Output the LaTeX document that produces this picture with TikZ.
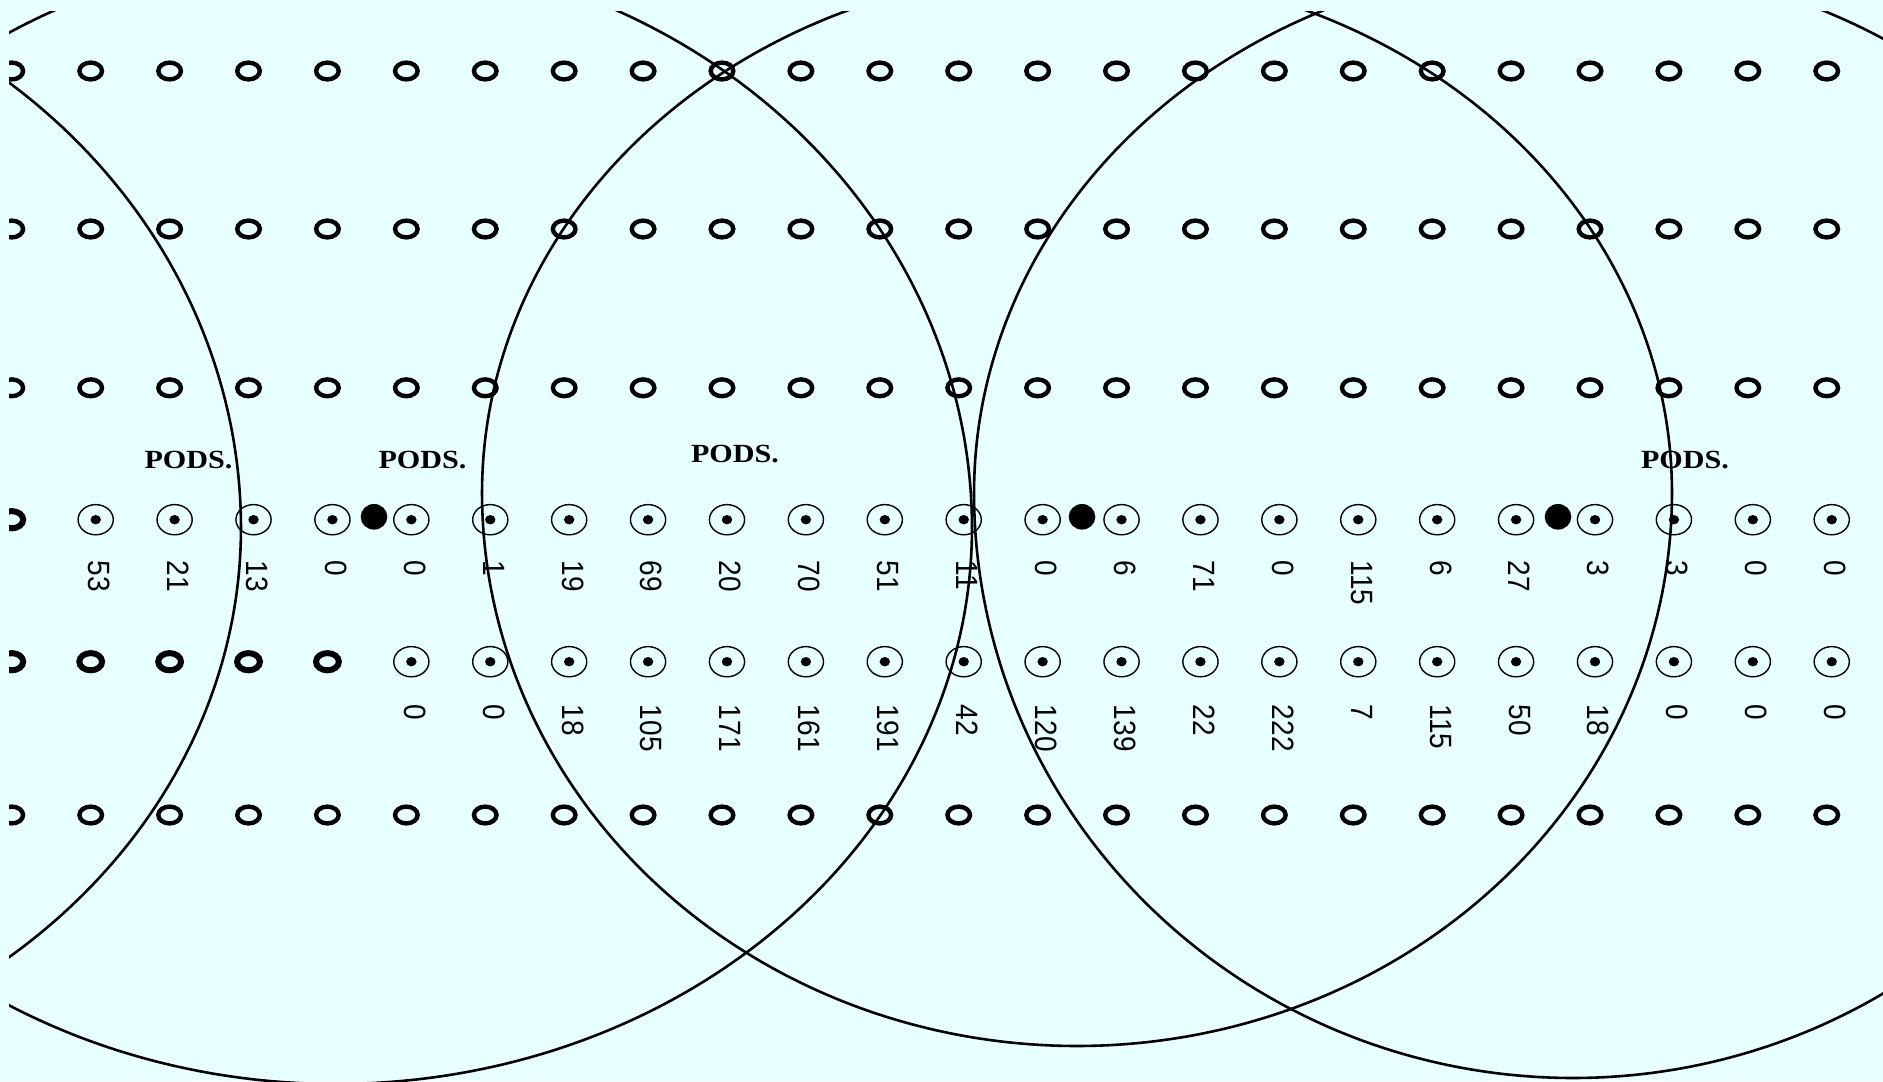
\documentclass[tikz,border=0pt]{standalone}
\usepackage{fontspec}
\setmainfont{Liberation Serif}
\newfontfamily\labfont{Liberation Sans}
\usepackage{graphicx}
\definecolor{bgc}{HTML}{E8FFFF}
\newcommand\qell[5]{%
  \draw[bigline] plot[domain=0:180,samples=140,smooth,variable=\t] ({#1+#3*cos(\t)},{#2-#4*sin(\t)})
    -- plot[domain=180:360,samples=140,smooth,variable=\t] ({#1+#3*cos(\t)},{#2-#5*sin(\t)}) -- cycle;}
\begin{document}
\begin{tikzpicture}[x=0.5pt,y=-0.5pt,
  bigline/.style={line width=1.3pt},
  ring/.style={line width=2.2pt},
  thickring/.style={line width=3pt},
  circ/.style={line width=0.7pt},
  lab/.style={font=\labfont\fontsize{14}{14}\selectfont, rotate=-90, anchor=west, inner sep=0pt},
  pods/.style={font=\bfseries\fontsize{13.1}{13.1}\selectfont, anchor=base, inner sep=0pt}]
\path[use as bounding box, fill=bgc] (0,0) rectangle (1883,1081);
\begin{scope}
\clip (9,12) rectangle (1883,1081);
% plain rings
\foreach \r in {71,229,387.8,815} {
  \foreach \k in {0,...,23} {
    \pgfmathsetmacro\xx{95.7+78.91*(\k-1)-5}
    \draw[ring] (\xx,\r) ellipse [x radius=11.3, y radius=8.4];
  }
}
% bold rings
\foreach \k in {0,...,4} {
  \pgfmathsetmacro\xx{95.7+78.91*(\k-1)-5}
  \draw[thickring] (\xx,661.7) ellipse [x radius=11.4, y radius=8.6];
}
\pgfmathsetmacro\xx{95.7+78.91*(-1)-5}
\draw[thickring] (\xx,519.7) ellipse [x radius=11.4, y radius=8.6];
% circled markers row 4
\foreach \k in {1,...,23} {
  \pgfmathsetmacro\xx{95.7+78.91*(\k-1)}
  \draw[circ] (\xx,519.7) ellipse [x radius=17.6, y radius=15.1];
  \fill (\xx,519.7) ellipse [x radius=5.2, y radius=4.7];
}
% circled markers row 5
\foreach \k in {5,...,23} {
  \pgfmathsetmacro\xx{95.7+78.91*(\k-1)}
  \draw[circ] (\xx,661.7) ellipse [x radius=17.6, y radius=15.1];
  \fill (\xx,661.7) ellipse [x radius=5.2, y radius=4.7];
}
% filled dots
\foreach \xx in {374,1082,1558} {
  \fill (\xx,516.8) ellipse [x radius=13.3, y radius=12.8];
}
% big circles
\qell{-395.5}{528}{636.5}{577}{556}
\qell{335.5}{528}{636.5}{577}{556}
\qell{1077}{493}{595}{523}{553}
\qell{1573}{493}{599}{531}{585}
\end{scope}
% labels row 4
\foreach \k/\v in {1/53,2/21,3/13,4/0,5/0,6/1,7/19,8/69,9/20,10/70,11/51,12/11,13/0,14/6,15/71,16/0,17/115,18/6,19/27,20/3,21/3,22/0,23/0} {
  \pgfmathsetmacro\xx{95.7+78.91*(\k-1)+3.5}
  \node[lab] (a\k) at (\xx,560.5) {\scalebox{1}[1.1]{\v}};
}
% labels row 5
\foreach \k/\v in {5/0,6/0,7/18,8/105,9/171,10/161,11/191,12/42,13/120,14/139,15/22,16/222,17/7,18/115,19/50,20/18,21/0,22/0,23/0} {
  \pgfmathsetmacro\xx{95.7+78.91*(\k-1)+3.5}
  \node[lab] (b\k) at (\xx,704.5) {\scalebox{1}[1.1]{\v}};
}
% PODS labels
\node[pods] (p1) at (188.5,468.3) {\scalebox{1.15}[1]{PODS.}};
\node[pods] (p2) at (422.5,468.3) {\scalebox{1.15}[1]{PODS.}};
\node[pods] (p3) at (735,462.7) {\scalebox{1.15}[1]{PODS.}};
\node[pods] (p4) at (1685,468.3) {\scalebox{1.15}[1]{PODS.}};
\end{tikzpicture}
\end{document}
